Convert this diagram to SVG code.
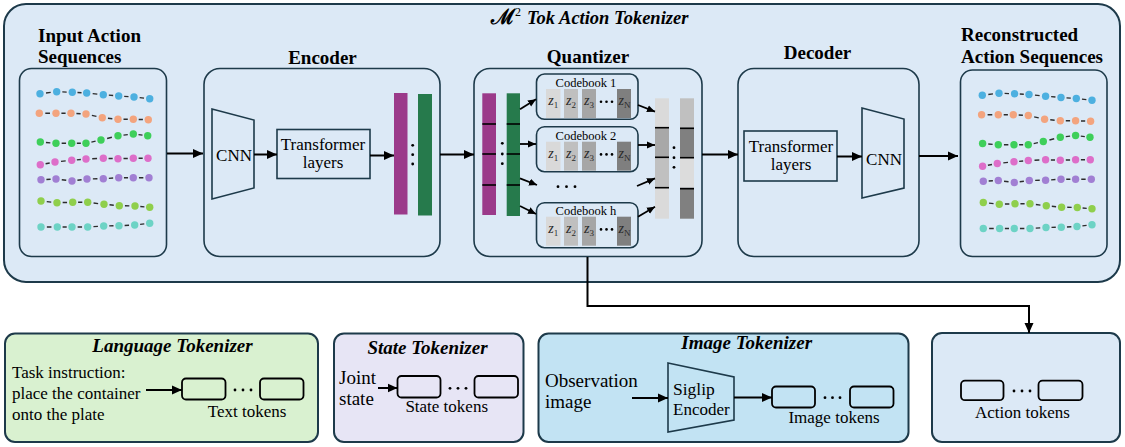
<svg xmlns="http://www.w3.org/2000/svg" xmlns:xlink="http://www.w3.org/1999/xlink" width="1125" height="447" viewBox="0 0 1125 447">
<style>
.t{font-family:"Liberation Serif","Times New Roman",serif;fill:#000}
.hd{font-weight:bold;font-size:19px}
.bi{font-weight:bold;font-style:italic;font-size:19px}
.b17{font-size:17px}
.b19{font-size:19px}
.cbt{font-size:12.5px}
.zt{font-family:"Liberation Serif","Times New Roman",serif;font-style:italic;font-size:14px;fill:#2a2a2a}
.frame{stroke:#1d3a4a;stroke-width:2}
.inner{fill:none;stroke:#1d3a4a;stroke-width:1.6}
.arr{stroke:#000;stroke-width:2;fill:none;marker-end:url(#ah)}
.arrs{stroke:#000;stroke-width:1.8;fill:none;marker-end:url(#ahs)}
.tok{fill:none;stroke:#000;stroke-width:1.8}
.dash{stroke:#2b2b2b;stroke-width:1.4;stroke-dasharray:0 3.6 2.8 20}
.tick{stroke:#000;stroke-width:1.6}
</style>
<defs>
<marker id="ah" markerUnits="userSpaceOnUse" markerWidth="10" markerHeight="10" viewBox="0 0 10 10" refX="10" refY="5" orient="auto"><path d="M0,0.5 L10,5 L0,9.5 z" fill="#000"/></marker>
<marker id="ahs" markerUnits="userSpaceOnUse" markerWidth="8" markerHeight="8" viewBox="0 0 10 10" refX="10" refY="5" orient="auto"><path d="M0,0.5 L10,5 L0,9.5 z" fill="#000"/></marker>
<g id="seqs">
<g>
<line class="dash" pathLength="10" x1="40" y1="93.7" x2="56.7" y2="91.7"/><line class="dash" pathLength="10" x1="56.7" y1="91.7" x2="72.3" y2="92.3"/><line class="dash" pathLength="10" x1="72.3" y1="92.3" x2="86.7" y2="93"/><line class="dash" pathLength="10" x1="86.7" y1="93" x2="103.3" y2="94.7"/><line class="dash" pathLength="10" x1="103.3" y1="94.7" x2="118.7" y2="96"/><line class="dash" pathLength="10" x1="118.7" y1="96" x2="134" y2="97"/><line class="dash" pathLength="10" x1="134" y1="97" x2="149.7" y2="98.7"/>
<line class="dash" pathLength="10" x1="39.3" y1="113.3" x2="56" y2="113.3"/><line class="dash" pathLength="10" x1="56" y1="113.3" x2="71" y2="113.3"/><line class="dash" pathLength="10" x1="71" y1="113.3" x2="86" y2="114"/><line class="dash" pathLength="10" x1="86" y1="114" x2="102.3" y2="117.7"/><line class="dash" pathLength="10" x1="102.3" y1="117.7" x2="118" y2="119.3"/><line class="dash" pathLength="10" x1="118" y1="119.3" x2="133.3" y2="119.3"/><line class="dash" pathLength="10" x1="133.3" y1="119.3" x2="148.3" y2="119.7"/>
<line class="dash" pathLength="10" x1="40.3" y1="142" x2="56" y2="143.3"/><line class="dash" pathLength="10" x1="56" y1="143.3" x2="71.7" y2="143.3"/><line class="dash" pathLength="10" x1="71.7" y1="143.3" x2="86" y2="143.3"/><line class="dash" pathLength="10" x1="86" y1="143.3" x2="101" y2="140"/><line class="dash" pathLength="10" x1="101" y1="140" x2="118" y2="135.7"/><line class="dash" pathLength="10" x1="118" y1="135.7" x2="133.3" y2="134"/><line class="dash" pathLength="10" x1="133.3" y1="134" x2="147.7" y2="135.7"/>
<line class="dash" pathLength="10" x1="40.3" y1="164.7" x2="55" y2="162"/><line class="dash" pathLength="10" x1="55" y1="162" x2="71.7" y2="160.3"/><line class="dash" pathLength="10" x1="71.7" y1="160.3" x2="86" y2="159"/><line class="dash" pathLength="10" x1="86" y1="159" x2="103.3" y2="158.3"/><line class="dash" pathLength="10" x1="103.3" y1="158.3" x2="118" y2="158.7"/><line class="dash" pathLength="10" x1="118" y1="158.7" x2="133.3" y2="158.3"/><line class="dash" pathLength="10" x1="133.3" y1="158.3" x2="148" y2="158.3"/>
<line class="dash" pathLength="10" x1="41" y1="179.7" x2="56" y2="179"/><line class="dash" pathLength="10" x1="56" y1="179" x2="72" y2="181"/><line class="dash" pathLength="10" x1="72" y1="181" x2="87" y2="179"/><line class="dash" pathLength="10" x1="87" y1="179" x2="103.3" y2="178.7"/><line class="dash" pathLength="10" x1="103.3" y1="178.7" x2="118.7" y2="177.7"/><line class="dash" pathLength="10" x1="118.7" y1="177.7" x2="133.3" y2="177.7"/><line class="dash" pathLength="10" x1="133.3" y1="177.7" x2="149" y2="177.7"/>
<line class="dash" pathLength="10" x1="41" y1="201" x2="57" y2="202.7"/><line class="dash" pathLength="10" x1="57" y1="202.7" x2="72.7" y2="202.3"/><line class="dash" pathLength="10" x1="72.7" y1="202.3" x2="87.7" y2="202.3"/><line class="dash" pathLength="10" x1="87.7" y1="202.3" x2="104" y2="204.3"/><line class="dash" pathLength="10" x1="104" y1="204.3" x2="119.3" y2="205.7"/><line class="dash" pathLength="10" x1="119.3" y1="205.7" x2="135" y2="206"/><line class="dash" pathLength="10" x1="135" y1="206" x2="149.7" y2="207.3"/>
<line class="dash" pathLength="10" x1="41" y1="227" x2="57.3" y2="227"/><line class="dash" pathLength="10" x1="57.3" y1="227" x2="72" y2="227"/><line class="dash" pathLength="10" x1="72" y1="227" x2="87.7" y2="227"/><line class="dash" pathLength="10" x1="87.7" y1="227" x2="103.7" y2="226"/><line class="dash" pathLength="10" x1="103.7" y1="226" x2="119" y2="225.7"/><line class="dash" pathLength="10" x1="119" y1="225.7" x2="134.7" y2="225"/><line class="dash" pathLength="10" x1="134.7" y1="225" x2="149.7" y2="223.3"/>
</g>
<g fill="#4db0e0"><circle cx="40" cy="93.7" r="3.7"/><circle cx="56.7" cy="91.7" r="3.7"/><circle cx="72.3" cy="92.3" r="3.7"/><circle cx="86.7" cy="93" r="3.7"/><circle cx="103.3" cy="94.7" r="3.7"/><circle cx="118.7" cy="96" r="3.7"/><circle cx="134" cy="97" r="3.7"/><circle cx="149.7" cy="98.7" r="3.7"/></g>
<g fill="#f3a47e"><circle cx="39.3" cy="113.3" r="3.7"/><circle cx="56" cy="113.3" r="3.7"/><circle cx="71" cy="113.3" r="3.7"/><circle cx="86" cy="114" r="3.7"/><circle cx="102.3" cy="117.7" r="3.7"/><circle cx="118" cy="119.3" r="3.7"/><circle cx="133.3" cy="119.3" r="3.7"/><circle cx="148.3" cy="119.7" r="3.7"/></g>
<g fill="#3ecf5a"><circle cx="40.3" cy="142" r="3.7"/><circle cx="56" cy="143.3" r="3.7"/><circle cx="71.7" cy="143.3" r="3.7"/><circle cx="86" cy="143.3" r="3.7"/><circle cx="101" cy="140" r="3.7"/><circle cx="118" cy="135.7" r="3.7"/><circle cx="133.3" cy="134" r="3.7"/><circle cx="147.7" cy="135.7" r="3.7"/></g>
<g fill="#dd6ec9"><circle cx="40.3" cy="164.7" r="3.7"/><circle cx="55" cy="162" r="3.7"/><circle cx="71.7" cy="160.3" r="3.7"/><circle cx="86" cy="159" r="3.7"/><circle cx="103.3" cy="158.3" r="3.7"/><circle cx="118" cy="158.7" r="3.7"/><circle cx="133.3" cy="158.3" r="3.7"/><circle cx="148" cy="158.3" r="3.7"/></g>
<g fill="#a17fd3"><circle cx="41" cy="179.7" r="3.7"/><circle cx="56" cy="179" r="3.7"/><circle cx="72" cy="181" r="3.7"/><circle cx="87" cy="179" r="3.7"/><circle cx="103.3" cy="178.7" r="3.7"/><circle cx="118.7" cy="177.7" r="3.7"/><circle cx="133.3" cy="177.7" r="3.7"/><circle cx="149" cy="177.7" r="3.7"/></g>
<g fill="#8fcf4c"><circle cx="41" cy="201" r="3.7"/><circle cx="57" cy="202.7" r="3.7"/><circle cx="72.7" cy="202.3" r="3.7"/><circle cx="87.7" cy="202.3" r="3.7"/><circle cx="104" cy="204.3" r="3.7"/><circle cx="119.3" cy="205.7" r="3.7"/><circle cx="135" cy="206" r="3.7"/><circle cx="149.7" cy="207.3" r="3.7"/></g>
<g fill="#6dd3c5"><circle cx="41" cy="227" r="3.7"/><circle cx="57.3" cy="227" r="3.7"/><circle cx="72" cy="227" r="3.7"/><circle cx="87.7" cy="227" r="3.7"/><circle cx="103.7" cy="226" r="3.7"/><circle cx="119" cy="225.7" r="3.7"/><circle cx="134.7" cy="225" r="3.7"/><circle cx="149.7" cy="223.3" r="3.7"/></g>
</g>
<g id="zcells">
<rect x="546" y="0" width="14.5" height="29" fill="#d9d9d9"/>
<rect x="564" y="0" width="14" height="29" fill="#bfbfbf"/>
<rect x="582" y="0" width="14" height="29" fill="#a6a6a6"/>
<rect x="617" y="0" width="14" height="29" fill="#7f7f7f"/>
<text class="zt" x="553.3" y="16" text-anchor="middle">z<tspan font-size="9" font-style="normal" dy="3">1</tspan></text>
<text class="zt" x="571" y="16" text-anchor="middle">z<tspan font-size="9" font-style="normal" dy="3">2</tspan></text>
<text class="zt" x="589" y="16" text-anchor="middle">z<tspan font-size="9" font-style="normal" dy="3">3</tspan></text>
<text class="zt" x="624.5" y="16" text-anchor="middle">z<tspan font-size="9" font-style="normal" dy="3">N</tspan></text>
<circle cx="601" cy="12.7" r="1.3" fill="#000"/><circle cx="606.5" cy="12.7" r="1.3" fill="#000"/><circle cx="612" cy="12.7" r="1.3" fill="#000"/>
</g>
</defs>

<g id="m2tok-frame">
<rect x="4" y="4" width="1116" height="278" rx="22" fill="#dce9f6" class="frame"/>
<text class="t" x="491" y="24" font-weight="bold" font-size="18.5"><tspan font-family="'DejaVu Serif',serif" font-size="21" font-style="normal">ℳ</tspan><tspan font-size="12" font-weight="normal" x="515" dy="-8">2</tspan><tspan font-style="italic" x="527" dy="8">Tok Action Tokenizer</tspan></text>
</g>

<g id="input-seq">
<text class="t hd" x="38" y="42">Input Action</text>
<text class="t hd" x="38" y="63">Sequences</text>
<rect x="19.5" y="68.5" width="147" height="188" rx="12" class="inner" stroke-width="2"/>
<use xlink:href="#seqs"/>
</g>

<g id="encoder">
<text class="t hd" x="322.5" y="64" text-anchor="middle">Encoder</text>
<rect x="204" y="68.5" width="236" height="188" rx="16" class="inner" stroke-width="2"/>
<polygon points="212,109 254,120 254,188 212,199" class="inner"/>
<text class="t b17" x="234" y="160.5" text-anchor="middle">CNN</text>
<rect x="277" y="129.5" width="93" height="49" class="inner"/>
<text class="t b17" x="323" y="150" text-anchor="middle">Transformer</text>
<text class="t b17" x="323" y="168" text-anchor="middle">layers</text>
<rect x="394" y="93" width="13.5" height="121.5" fill="#9b3a8a"/>
<rect x="418" y="94" width="14" height="121.5" fill="#267a4c"/>
<circle cx="412.7" cy="145.3" r="1.4"/><circle cx="412.7" cy="154.7" r="1.4"/><circle cx="412.7" cy="164" r="1.4"/>
</g>

<g id="quantizer">
<text class="t hd" x="588" y="63" text-anchor="middle">Quantizer</text>
<rect x="474" y="68.5" width="228" height="188" rx="16" class="inner" stroke-width="2"/>
<rect x="482.3" y="93.3" width="13.7" height="121.7" fill="#9b3a8a"/>
<rect x="506.7" y="93.3" width="13.3" height="122.7" fill="#267a4c"/>
<line class="tick" x1="482.3" y1="124" x2="496" y2="124"/><line class="tick" x1="482.3" y1="154" x2="496" y2="154"/><line class="tick" x1="482.3" y1="185" x2="496" y2="185"/>
<line class="tick" x1="506.7" y1="124" x2="520" y2="124"/><line class="tick" x1="506.7" y1="154" x2="520" y2="154"/><line class="tick" x1="506.7" y1="185" x2="520" y2="185"/>
<circle cx="502.3" cy="143.3" r="1.4"/><circle cx="502.3" cy="154" r="1.4"/><circle cx="502.3" cy="163.7" r="1.4"/>
<g id="codebook-1">
<rect x="536.5" y="74" width="101.5" height="45.3" rx="8" class="inner" stroke-width="2"/>
<text class="t cbt" x="586" y="87.3" text-anchor="middle">Codebook 1</text>
<use xlink:href="#zcells" y="89"/>
</g>
<g id="codebook-2">
<rect x="536.5" y="126.7" width="101.5" height="45" rx="8" class="inner" stroke-width="2"/>
<text class="t cbt" x="586" y="140" text-anchor="middle">Codebook 2</text>
<use xlink:href="#zcells" y="141.7"/>
</g>
<circle cx="558" cy="186.7" r="1.4"/><circle cx="566.5" cy="186.7" r="1.4"/><circle cx="575" cy="186.7" r="1.4"/>
<g id="codebook-h">
<rect x="536.5" y="202.7" width="101.5" height="45" rx="8" class="inner" stroke-width="2"/>
<text class="t cbt" x="586" y="215" text-anchor="middle">Codebook h</text>
<use xlink:href="#zcells" y="216.7"/>
</g>
<rect x="655" y="98.3" width="14" height="29.4" fill="#dadada"/>
<rect x="655" y="127.7" width="14" height="29.6" fill="#a8a8a8"/>
<rect x="655" y="157.3" width="14" height="30.4" fill="#c0c0c0"/>
<rect x="655" y="187.7" width="14" height="31" fill="#dadada"/>
<rect x="680" y="98.3" width="14" height="29.4" fill="#c0c0c0"/>
<rect x="680" y="127.7" width="14" height="29.6" fill="#808080"/>
<rect x="680" y="157.3" width="14" height="30.4" fill="#dcdcdc"/>
<rect x="680" y="187.7" width="14" height="31" fill="#808080"/>
<line class="tick" x1="655" y1="127.7" x2="669" y2="127.7"/><line class="tick" x1="655" y1="157.3" x2="669" y2="157.3"/><line class="tick" x1="655" y1="187.7" x2="669" y2="187.7"/>
<line class="tick" x1="680" y1="128.3" x2="694" y2="128.3"/><line class="tick" x1="680" y1="157.7" x2="694" y2="157.7"/><line class="tick" x1="680" y1="188.7" x2="694" y2="188.7"/>
<circle cx="674" cy="147.7" r="1.4"/><circle cx="674" cy="157.7" r="1.4"/><circle cx="674" cy="167.3" r="1.4"/>
</g>

<g id="decoder">
<text class="t hd" x="817.5" y="59" text-anchor="middle">Decoder</text>
<rect x="738" y="68.5" width="181" height="188" rx="16" class="inner" stroke-width="2"/>
<rect x="744" y="131" width="93" height="50" class="inner"/>
<text class="t b17" x="791" y="151.5" text-anchor="middle">Transformer</text>
<text class="t b17" x="791" y="170" text-anchor="middle">layers</text>
<polygon points="862,108 904,119 904,188 862,198" class="inner"/>
<text class="t b17" x="884" y="165" text-anchor="middle">CNN</text>
</g>

<g id="recon-seq">
<text class="t hd" x="961" y="41">Reconstructed</text>
<text class="t hd" x="961" y="63">Action Sequences</text>
<rect x="960.5" y="70" width="146.5" height="186.5" rx="12" class="inner" stroke-width="2"/>
<use xlink:href="#seqs" transform="translate(942.3,1.5)"/>
</g>

<g id="language-tokenizer">
<rect x="5" y="333.5" width="313" height="108.5" rx="10" fill="#d9f1d0" class="frame"/>
<text class="t bi" x="172.5" y="352" text-anchor="middle">Language Tokenizer</text>
<text class="t b17" x="12" y="378">Task instruction:</text>
<text class="t b17" x="12" y="399">place the container</text>
<text class="t b17" x="12" y="420">onto the plate</text>
<rect x="182" y="378.5" width="43.5" height="21" rx="4" class="tok"/>
<rect x="260" y="378.5" width="43.5" height="21" rx="4" class="tok"/>
<circle cx="235" cy="390" r="1.4"/><circle cx="243" cy="390" r="1.4"/><circle cx="251" cy="390" r="1.4"/>
<text class="t b17" x="247" y="416.5" text-anchor="middle">Text tokens</text>
</g>

<g id="state-tokenizer">
<rect x="334" y="333.5" width="189.5" height="108.5" rx="10" fill="#e7e5f5" class="frame"/>
<text class="t bi" x="427.5" y="354" text-anchor="middle">State Tokenizer</text>
<text class="t b19" x="339" y="384">Joint</text>
<text class="t b19" x="339" y="405">state</text>
<rect x="397.5" y="376" width="43" height="21.5" rx="4" class="tok"/>
<rect x="474.5" y="376" width="43.5" height="21.5" rx="4" class="tok"/>
<circle cx="450" cy="388.3" r="1.4"/><circle cx="458" cy="388.3" r="1.4"/><circle cx="466" cy="388.3" r="1.4"/>
<text class="t b17" x="446.7" y="411.5" text-anchor="middle">State tokens</text>
</g>

<g id="image-tokenizer">
<rect x="538.5" y="333.5" width="370" height="108.5" rx="10" fill="#c2e3f3" class="frame"/>
<text class="t bi" x="746.7" y="348.5" text-anchor="middle">Image Tokenizer</text>
<text class="t b19" x="545" y="386.5">Observation</text>
<text class="t b19" x="545" y="407.5">image</text>
<polygon points="668,363 734,377 734,420 668,432" class="inner"/>
<text class="t" font-size="17.5" x="673" y="395">Siglip</text>
<text class="t b17" x="673" y="415">Encoder</text>
<rect x="772" y="386.5" width="43" height="21" rx="4" class="tok"/>
<rect x="850" y="386.5" width="43.5" height="21" rx="4" class="tok"/>
<circle cx="825" cy="397.7" r="1.4"/><circle cx="832.5" cy="397.7" r="1.4"/><circle cx="840" cy="397.7" r="1.4"/>
<text class="t b17" x="834" y="423.3" text-anchor="middle">Image tokens</text>
</g>

<g id="action-tokens">
<rect x="932" y="333" width="188" height="109" rx="10" fill="#dce9f6" class="frame"/>
<rect x="961" y="380.7" width="42.5" height="19.5" rx="4" class="tok"/>
<rect x="1038.5" y="380.7" width="44" height="19.5" rx="4" class="tok"/>
<circle cx="1014" cy="391" r="1.4"/><circle cx="1022" cy="391" r="1.4"/><circle cx="1030" cy="391" r="1.4"/>
<text class="t b17" x="1022.5" y="418" text-anchor="middle">Action tokens</text>
</g>

<g id="connectors">
<line class="arr" x1="167" y1="153.5" x2="203" y2="153.5"/>
<line class="arr" x1="254" y1="154.5" x2="277" y2="154.5"/>
<line class="arr" x1="370" y1="155.5" x2="394" y2="155.5"/>
<line class="arr" x1="440" y1="154.5" x2="474" y2="154.5"/>
<line class="arrs" x1="520" y1="109.3" x2="536" y2="99.3"/>
<line class="arrs" x1="520" y1="144" x2="536" y2="144"/>
<line class="arrs" x1="520" y1="178.3" x2="537" y2="185"/>
<line class="arrs" x1="520" y1="206" x2="536" y2="214"/>
<line class="arrs" x1="638" y1="105" x2="655" y2="111.7"/>
<line class="arrs" x1="638" y1="145" x2="655" y2="145"/>
<line class="arrs" x1="637" y1="186" x2="655" y2="178.3"/>
<line class="arrs" x1="638" y1="216.7" x2="655" y2="206.7"/>
<line class="arr" x1="702" y1="154.5" x2="738" y2="154.5"/>
<line class="arr" x1="837" y1="156.5" x2="862" y2="156.5"/>
<line class="arr" x1="919" y1="156" x2="958" y2="156"/>
<path class="arr" d="M587.5,257 V306 H1029 V333"/>
<line class="arr" x1="146" y1="390" x2="182" y2="390"/>
<line class="arr" x1="378" y1="388" x2="397.5" y2="388"/>
<line class="arr" x1="632" y1="398" x2="668" y2="398"/>
<line class="arr" x1="734" y1="397.5" x2="772" y2="397.5"/>
</g>
</svg>
